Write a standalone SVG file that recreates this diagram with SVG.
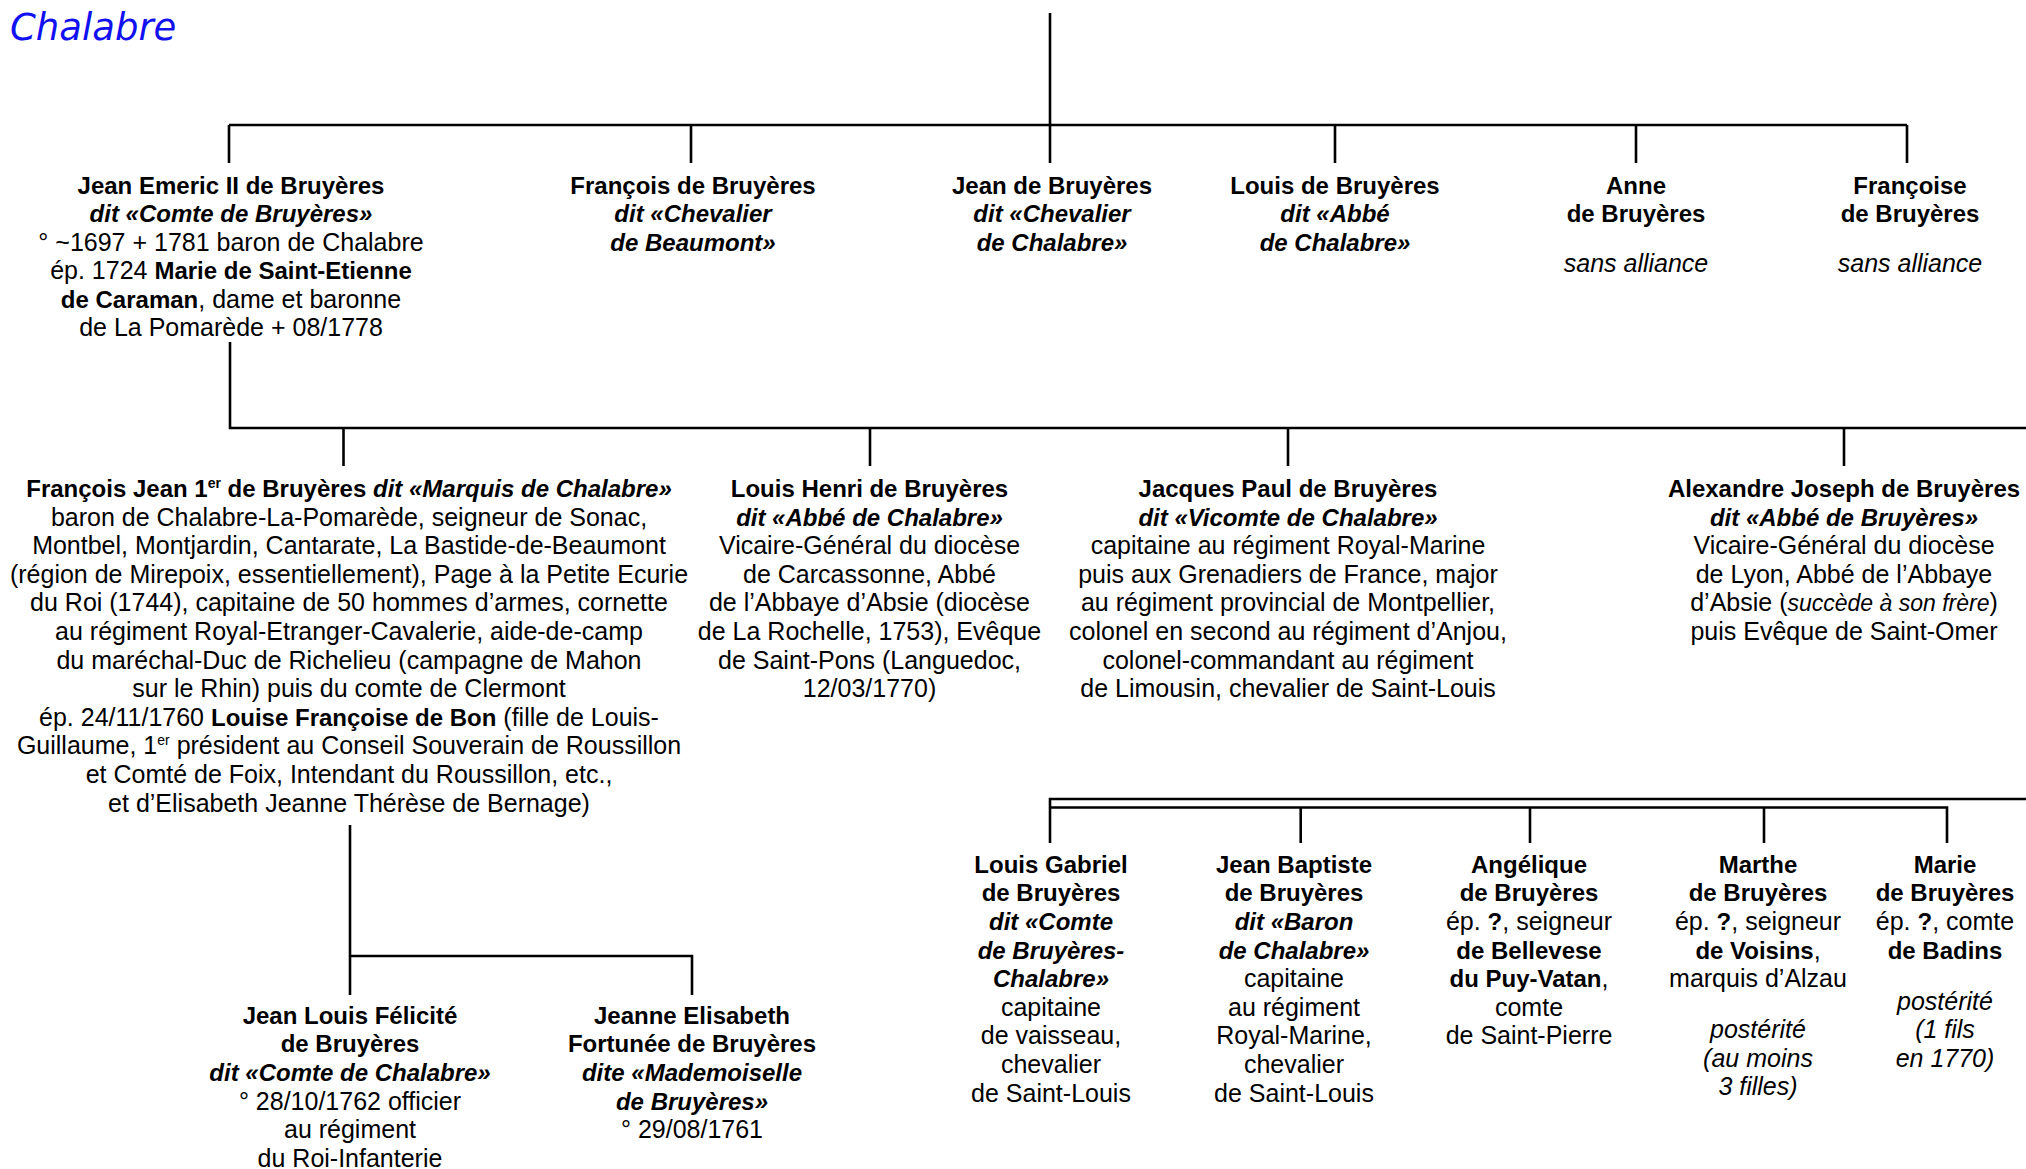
<svg xmlns="http://www.w3.org/2000/svg" width="2026" height="1169" viewBox="0 0 2026 1169">
<style>
.t{font-family:"Liberation Sans",Arial,sans-serif;font-size:25px;fill:#000;text-anchor:middle}
.b{font-weight:bold;font-size:24px}
.bi{font-weight:bold;font-style:italic;font-size:24px}
.i{font-style:italic}
.ln{stroke:#000;stroke-width:2.6;fill:none}
.title{font-family:"DejaVu Sans",Verdana,sans-serif;font-style:italic;font-size:37px;fill:#1010f0}
</style>
<rect width="2026" height="1169" fill="#fff"/>
<text class="title" x="10" y="40">Chalabre</text>

<g id="connectors">
<path class="ln" d="M1050 13V125M229 125H1907M229 125V163M691 125V163M1050 125V163M1335 125V163M1636 125V163M1907 125V163"/>
<path class="ln" d="M230 342V428H2026M343.5 428V466M870 428V466M1288 428V466M1844 428V466"/>
<path class="ln" d="M350 825V995M350 956H692V995"/>
<path class="ln" d="M2026 799H1050V843M1050 807.5H1947V843M1300.7 807.5V843M1530 807.5V843M1764 807.5V843"/>
</g>

<g id="nodes" transform="translate(0,2)">
<g id="n-jean-emeric" class="t">
<text x="231" y="192" class="b">Jean Emeric II de Bruyères</text>
<text x="231" y="220.3" class="bi">dit «Comte de Bruyères»</text>
<text x="231" y="248.6">° ~1697 + 1781 baron de Chalabre</text>
<text x="231" y="277">ép. 1724 <tspan class="b">Marie de Saint-Etienne</tspan></text>
<text x="231" y="305.5"><tspan class="b">de Caraman</tspan>, dame et baronne</text>
<text x="231" y="334">de La Pomarède + 08/1778</text>
</g>
<g id="n-francois" class="t">
<text x="693" y="192" class="b">François de Bruyères</text>
<text x="693" y="220.3" class="bi">dit «Chevalier</text>
<text x="693" y="248.6" class="bi">de Beaumont»</text>
</g>
<g id="n-jean" class="t">
<text x="1052" y="192" class="b">Jean de Bruyères</text>
<text x="1052" y="220.3" class="bi">dit «Chevalier</text>
<text x="1052" y="248.6" class="bi">de Chalabre»</text>
</g>
<g id="n-louis" class="t">
<text x="1335" y="192" class="b">Louis de Bruyères</text>
<text x="1335" y="220.3" class="bi">dit «Abbé</text>
<text x="1335" y="248.6" class="bi">de Chalabre»</text>
</g>
<g id="n-anne" class="t">
<text x="1636" y="192" class="b">Anne</text>
<text x="1636" y="220.3" class="b">de Bruyères</text>
<text x="1636" y="269.5" class="i">sans alliance</text>
</g>
<g id="n-francoise" class="t">
<text x="1910" y="192" class="b">Françoise</text>
<text x="1910" y="220.3" class="b">de Bruyères</text>
<text x="1910" y="269.5" class="i">sans alliance</text>
</g>

<g id="n-francois-jean" class="t">
<text x="349" y="495"><tspan class="b">François Jean 1<tspan dy="-9" font-size="14">er</tspan><tspan dy="9"> de Bruyères </tspan></tspan><tspan class="bi">dit «Marquis de Chalabre»</tspan></text>
<text x="349" y="523.6">baron de Chalabre-La-Pomarède, seigneur de Sonac,</text>
<text x="349" y="552.2">Montbel, Montjardin, Cantarate, La Bastide-de-Beaumont</text>
<text x="349" y="580.8">(région de Mirepoix, essentiellement), Page à la Petite Ecurie</text>
<text x="349" y="609.4">du Roi (1744), capitaine de 50 hommes d’armes, cornette</text>
<text x="349" y="638">au régiment Royal-Etranger-Cavalerie, aide-de-camp</text>
<text x="349" y="666.6">du maréchal-Duc de Richelieu (campagne de Mahon</text>
<text x="349" y="695.2">sur le Rhin) puis du comte de Clermont</text>
<text x="349" y="723.8">ép. 24/11/1760 <tspan class="b">Louise Françoise de Bon</tspan> (fille de Louis-</text>
<text x="349" y="752.4">Guillaume, 1<tspan dy="-9" font-size="14">er</tspan><tspan dy="9"> président au Conseil Souverain de Roussillon</tspan></text>
<text x="349" y="781">et Comté de Foix, Intendant du Roussillon, etc.,</text>
<text x="349" y="809.6">et d’Elisabeth Jeanne Thérèse de Bernage)</text>
</g>
<g id="n-louis-henri" class="t">
<text x="869.5" y="495" class="b">Louis Henri de Bruyères</text>
<text x="869.5" y="523.6" class="bi">dit «Abbé de Chalabre»</text>
<text x="869.5" y="552.2">Vicaire-Général du diocèse</text>
<text x="869.5" y="580.8">de Carcassonne, Abbé</text>
<text x="869.5" y="609.4">de l’Abbaye d’Absie (diocèse</text>
<text x="869.5" y="638">de La Rochelle, 1753), Evêque</text>
<text x="869.5" y="666.6">de Saint-Pons (Languedoc,</text>
<text x="869.5" y="695.2">12/03/1770)</text>
</g>
<g id="n-jacques-paul" class="t">
<text x="1288" y="495" class="b">Jacques Paul de Bruyères</text>
<text x="1288" y="523.6" class="bi">dit «Vicomte de Chalabre»</text>
<text x="1288" y="552.2">capitaine au régiment Royal-Marine</text>
<text x="1288" y="580.8">puis aux Grenadiers de France, major</text>
<text x="1288" y="609.4">au régiment provincial de Montpellier,</text>
<text x="1288" y="638">colonel en second au régiment d’Anjou,</text>
<text x="1288" y="666.6">colonel-commandant au régiment</text>
<text x="1288" y="695.2">de Limousin, chevalier de Saint-Louis</text>
</g>
<g id="n-alexandre" class="t">
<text x="1844" y="495" class="b">Alexandre Joseph de Bruyères</text>
<text x="1844" y="523.6" class="bi">dit «Abbé de Bruyères»</text>
<text x="1844" y="552.2">Vicaire-Général du diocèse</text>
<text x="1844" y="580.8">de Lyon, Abbé de l’Abbaye</text>
<text x="1844" y="609.4">d’Absie (<tspan class="i" font-size="23">succède à son frère</tspan>)</text>
<text x="1844" y="638">puis Evêque de Saint-Omer</text>
</g>

<g id="n-jean-louis" class="t">
<text x="350" y="1021.7" class="b">Jean Louis Félicité</text>
<text x="350" y="1050.3" class="b">de Bruyères</text>
<text x="350" y="1078.9" class="bi">dit «Comte de Chalabre»</text>
<text x="350" y="1107.5">° 28/10/1762 officier</text>
<text x="350" y="1136.1">au régiment</text>
<text x="350" y="1164.7">du Roi-Infanterie</text>
</g>
<g id="n-jeanne" class="t">
<text x="692" y="1021.7" class="b">Jeanne Elisabeth</text>
<text x="692" y="1050.3" class="b">Fortunée de Bruyères</text>
<text x="692" y="1078.9" class="bi">dite «Mademoiselle</text>
<text x="692" y="1107.5" class="bi">de Bruyères»</text>
<text x="692" y="1136.1">° 29/08/1761</text>
</g>

<g id="n-louis-gabriel" class="t">
<text x="1051" y="870.7" class="b">Louis Gabriel</text>
<text x="1051" y="899.3" class="b">de Bruyères</text>
<text x="1051" y="927.9" class="bi">dit «Comte</text>
<text x="1051" y="956.5" class="bi">de Bruyères-</text>
<text x="1051" y="985.1" class="bi">Chalabre»</text>
<text x="1051" y="1013.7">capitaine</text>
<text x="1051" y="1042.3">de vaisseau,</text>
<text x="1051" y="1070.9">chevalier</text>
<text x="1051" y="1099.5">de Saint-Louis</text>
</g>
<g id="n-jean-baptiste" class="t">
<text x="1294" y="870.7" class="b">Jean Baptiste</text>
<text x="1294" y="899.3" class="b">de Bruyères</text>
<text x="1294" y="927.9" class="bi">dit «Baron</text>
<text x="1294" y="956.5" class="bi">de Chalabre»</text>
<text x="1294" y="985.1">capitaine</text>
<text x="1294" y="1013.7">au régiment</text>
<text x="1294" y="1042.3">Royal-Marine,</text>
<text x="1294" y="1070.9">chevalier</text>
<text x="1294" y="1099.5">de Saint-Louis</text>
</g>
<g id="n-angelique" class="t">
<text x="1529" y="870.7" class="b">Angélique</text>
<text x="1529" y="899.3" class="b">de Bruyères</text>
<text x="1529" y="927.9">ép. <tspan class="b">?</tspan>, seigneur</text>
<text x="1529" y="956.5" class="b">de Bellevese</text>
<text x="1529" y="985.1"><tspan class="b">du Puy-Vatan</tspan>,</text>
<text x="1529" y="1013.7">comte</text>
<text x="1529" y="1042.3">de Saint-Pierre</text>
</g>
<g id="n-marthe" class="t">
<text x="1758" y="870.7" class="b">Marthe</text>
<text x="1758" y="899.3" class="b">de Bruyères</text>
<text x="1758" y="927.9">ép. <tspan class="b">?</tspan>, seigneur</text>
<text x="1758" y="956.5"><tspan class="b">de Voisins</tspan>,</text>
<text x="1758" y="985.1">marquis d’Alzau</text>
<text x="1758" y="1036" class="i">postérité</text>
<text x="1758" y="1064.5" class="i">(au moins</text>
<text x="1758" y="1093" class="i">3 filles)</text>
</g>
<g id="n-marie" class="t">
<text x="1945" y="870.7" class="b">Marie</text>
<text x="1945" y="899.3" class="b">de Bruyères</text>
<text x="1945" y="927.9">ép. <tspan class="b">?</tspan>, comte</text>
<text x="1945" y="956.5" class="b">de Badins</text>
<text x="1945" y="1007.5" class="i">postérité</text>
<text x="1945" y="1036" class="i">(1 fils</text>
<text x="1945" y="1064.5" class="i">en 1770)</text>
</g>
</g>
</svg>
